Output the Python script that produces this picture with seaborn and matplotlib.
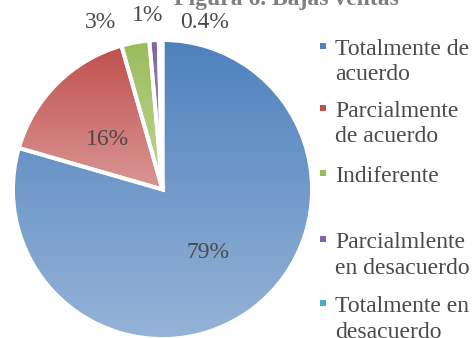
import numpy as np
import matplotlib
matplotlib.use("Agg")
import matplotlib.pyplot as plt
import seaborn as sns
from matplotlib.colors import to_rgb
from matplotlib.patches import Rectangle

# ---- data ---------------------------------------------------------------
categories = [
    "Totalmente de\nacuerdo",
    "Parcialmente\nde acuerdo",
    "Indiferente",
    "Parcialmlente\nen desacuerdo",
    "Totalmente en\ndesacuerdo",
]
values = [79, 16, 3, 1, 0.4]
title = "Figura 6. Bajas ventas"

# ---- style --------------------------------------------------------------
sns.set_theme(style="white")
plt.rcParams["font.family"] = ["Liberation Serif", "DejaVu Serif"]

top_colors = ["#4F81BD", "#C0504D", "#9BBB59", "#8064A2", "#4BACC6"]
bottom_colors = ["#95B3D7", "#D99694", "#C3D69B", "#B3A2C7", "#93CDDD"]
text_color = "#4A4A4A"
font_size = 17

W, H = 474, 338
fig = plt.figure(figsize=(W / 100, H / 100), dpi=100)
fig.patch.set_facecolor("white")

# pie axes: square box so that radius 1 spans the box
ax = fig.add_axes([13 / W, -1 / H, 299 / W, 299 / H])
wedges, _ = ax.pie(
    values,
    startangle=90,
    counterclock=False,
    colors=top_colors,
    wedgeprops=dict(edgecolor="white", linewidth=2.8),
)
ax.set_xlim(-1, 1)
ax.set_ylim(-1, 1)
ax.set_aspect("equal")
ax.axis("off")

# vertical gradient fill per wedge (dark at top, light at bottom)
for w, c0, c1 in zip(wedges, top_colors, bottom_colors):
    v = w.get_path().vertices
    xmin, xmax = v[:, 0].min(), v[:, 0].max()
    ymin, ymax = v[:, 1].min(), v[:, 1].max()
    t = np.linspace(0, 1, 256)[:, None, None]
    grad = (1 - t) * np.array(to_rgb(c0)) + t * np.array(to_rgb(c1))
    im = ax.imshow(grad, extent=(xmin, xmax, ymin, ymax), origin="upper",
                   aspect="auto", zorder=1, interpolation="bilinear")
    im.set_clip_path(w)
    w.set_facecolor("none")
    w.set_zorder(3)
ax.set_xlim(-1, 1)
ax.set_ylim(-1, 1)

# ---- value labels -------------------------------------------------------
total = sum(values)
label_radius = [0.52, 0.50, 1.19, 1.17, 1.15]
label_shift = [-1.0, 3.0, 10.0, 1.5, -15.0]
start = 90.0
for v, r, s in zip(values, label_radius, label_shift):
    span = v / total * 360.0
    mid = np.deg2rad(start - span / 2 + s)
    start -= span
    ax.text(r * np.cos(mid), r * np.sin(mid), f"{v:g}%", ha="center",
            va="center", fontsize=font_size, color=text_color, zorder=5)

# ---- title --------------------------------------------------------------
fig.text(286.5 / W, 1 - 5 / H, title, ha="center", va="baseline",
         fontsize=17, fontweight="bold", color="#7F7F7F")

# ---- legend -------------------------------------------------------------
entry_baselines = [55, 117, 182, 248, 312]
line_step = 25.5
for label, base, col in zip(categories, entry_baselines, top_colors):
    fig.patches.append(Rectangle((320 / W, 1 - 49 / H - (base - 55) / H), 6 / W, 6 / H,
                                 transform=fig.transFigure, facecolor=col,
                                 edgecolor="none"))
    for k, line in enumerate(label.split("\n")):
        fig.text(335 / W, 1 - (base + k * line_step) / H, line, ha="left",
                 va="baseline", fontsize=font_size, color=text_color)

fig.savefig("out.png", dpi=100)
